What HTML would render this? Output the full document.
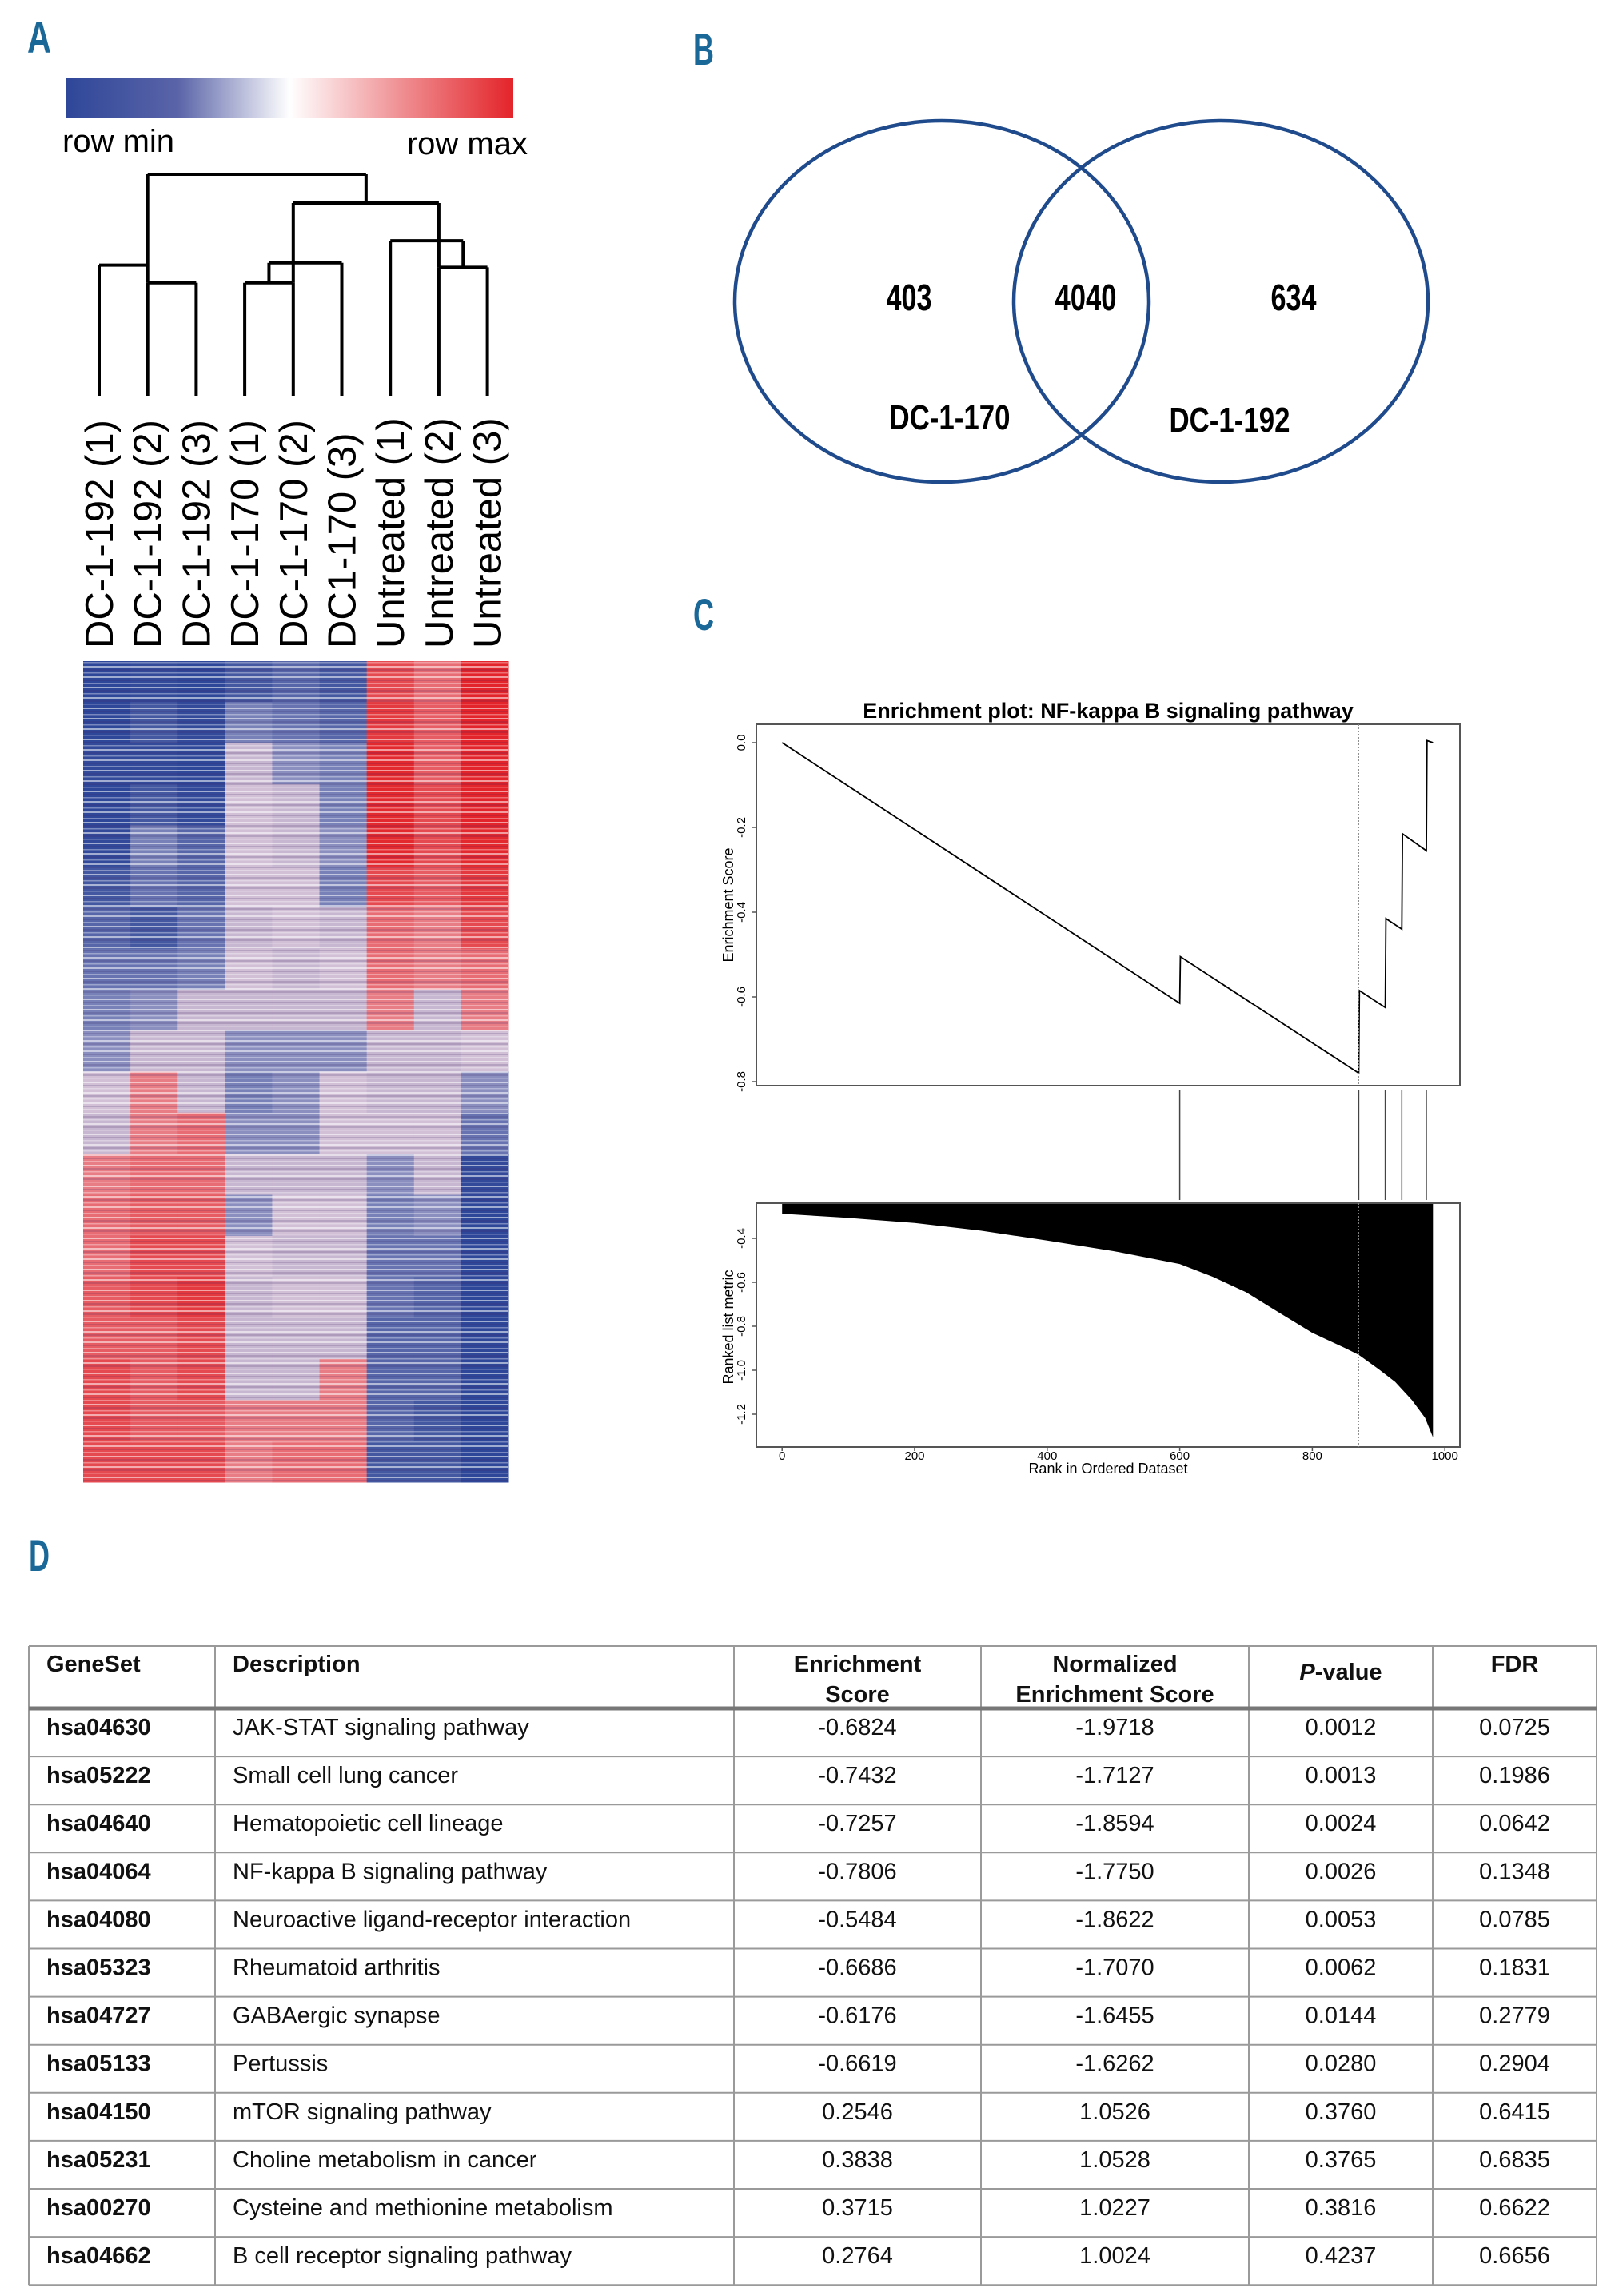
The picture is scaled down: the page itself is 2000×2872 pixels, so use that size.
<!DOCTYPE html>
<html><head><meta charset="utf-8">
<style>
html,body{margin:0;padding:0;background:#fff;}
svg{display:block;}
.lbl{font-family:"Liberation Sans Narrow","Liberation Sans",sans-serif;font-weight:bold;fill:#1a6898;font-size:56px;}
.ax{font-family:"Liberation Sans",sans-serif;}
.tb{font-family:"Liberation Sans",sans-serif;font-size:29px;fill:#111;}
</style></head>
<body>
<svg id="fig" width="2000" height="2872" viewBox="0 0 2000 2872" xmlns="http://www.w3.org/2000/svg">
<defs>
<linearGradient id="cbar" x1="0" x2="1" y1="0" y2="0">
<stop offset="0" stop-color="#2f4799"/><stop offset="0.25" stop-color="#5a64a8"/><stop offset="0.5" stop-color="#ffffff"/><stop offset="0.75" stop-color="#ef8f92"/><stop offset="1" stop-color="#e3242a"/>
</linearGradient>
<pattern id="stripes" width="10" height="13" patternUnits="userSpaceOnUse">
<rect x="0" y="1" width="10" height="2" fill="#fff" opacity="0.55"/>
<rect x="0" y="5" width="10" height="2" fill="#3a1a60" opacity="0.18"/>
<rect x="0" y="9" width="10" height="1.5" fill="#fff" opacity="0.35"/>
</pattern>
</defs>
<text class="lbl" x="34" y="66" textLength="30" lengthAdjust="spacingAndGlyphs">A</text>
<text class="lbl" x="867" y="81" textLength="26" lengthAdjust="spacingAndGlyphs">B</text>
<text class="lbl" x="867" y="788" textLength="26" lengthAdjust="spacingAndGlyphs">C</text>
<text class="lbl" x="36" y="1965" textLength="26" lengthAdjust="spacingAndGlyphs">D</text>

<g>
<rect x="83" y="97" width="559" height="51" fill="url(#cbar)"/>
<text class="ax" x="78" y="190" font-size="40">row min</text>
<text class="ax" x="660" y="193" font-size="40" text-anchor="end">row max</text>
</g>

<g id="dendro" stroke="#000" stroke-width="4" fill="none"></g>
<g id="samplelabels"></g>
<g id="heat"></g>

<g>
<ellipse cx="1178" cy="377" rx="259" ry="226" fill="none" stroke="#1f4a8c" stroke-width="4.5"/>
<ellipse cx="1527" cy="377" rx="259" ry="226" fill="none" stroke="#1f4a8c" stroke-width="4.5"/>
<g font-family="'Liberation Sans Narrow','Liberation Sans',sans-serif" font-weight="bold" text-anchor="middle" fill="#000">
<text x="1137" y="388" font-size="46" textLength="57" lengthAdjust="spacingAndGlyphs">403</text>
<text x="1358" y="388" font-size="46" textLength="77" lengthAdjust="spacingAndGlyphs">4040</text>
<text x="1618" y="388" font-size="46" textLength="57" lengthAdjust="spacingAndGlyphs">634</text>
<text x="1188" y="537" font-size="44" textLength="151" lengthAdjust="spacingAndGlyphs">DC-1-170</text>
<text x="1538" y="540" font-size="44" textLength="151" lengthAdjust="spacingAndGlyphs">DC-1-192</text>
</g>
</g>

<g id="gsea"></g>
<g id="table"></g>
</svg>

<script>
// ---------- Heatmap data (block-averaged, -1 = row min, 1 = row max) ----------
const samples = ["DC-1-192 (1)","DC-1-192 (2)","DC-1-192 (3)","DC-1-170 (1)","DC-1-170 (2)","DC1-170 (3)","Untreated (1)","Untreated (2)","Untreated (3)"];
const heatCol1 = [-0.8,-0.8,-0.7,-0.8,-0.7,-0.6,-0.5,-0.4,-0.3,-0.2,0,0.1,0.2,0.3,0.3,0.4,0.4,0.5,0.5,0.5];
const heatCol2 = [-0.7,-0.6,-0.7,-0.6,-0.3,-0.4,-0.6,-0.4,-0.2,0.1,0.2,0.2,0.3,0.4,0.5,0.5,0.4,0.4,0.4,0.5];
const heatCol3 = [-0.8,-0.7,-0.8,-0.7,-0.5,-0.5,-0.4,-0.3,-0.1,0.1,0.1,0.3,0.3,0.4,0.5,0.6,0.5,0.5,0.4,0.5];
const heatCol4 = [-0.6,-0.3,-0.1,0,0,0,-0.1,0,0.1,-0.2,-0.3,-0.2,-0.1,-0.2,0,-0.1,0.1,0.1,0.2,0.2];
const heatCol5 = [-0.5,-0.4,-0.2,-0.1,-0.1,0,0,-0.1,-0.1,-0.2,-0.2,-0.2,-0.1,0,-0.1,0,0.1,0.1,0.2,0.3];
const heatCol6 = [-0.6,-0.5,-0.3,-0.3,-0.2,-0.3,-0.1,0,-0.1,-0.2,0,0,-0.1,0,0.1,0,0.1,0.2,0.2,0.3];
const heatCol7 = [0.5,0.6,0.7,0.7,0.7,0.5,0.3,0.3,0.2,0.1,0.1,0,-0.2,-0.3,-0.4,-0.4,-0.5,-0.5,-0.5,-0.6];
const heatCol8 = [0.3,0.4,0.4,0.5,0.5,0.4,0.2,0.2,0.1,0.1,0.1,0,-0.1,-0.2,-0.4,-0.5,-0.5,-0.5,-0.6,-0.6];
const heatCol9 = [0.9,0.9,0.85,0.8,0.7,0.6,0.5,0.3,0.2,0,-0.2,-0.4,-0.7,-0.8,-0.85,-0.9,-0.9,-0.9,-0.9,-0.9];
// dendrogram merge heights (0 = leaves, 1 = root)
const mergeHeights = {g192_23:0.51, g192_all:0.59, g170_12:0.51, g170_all:0.60, unt_23:0.58, unt_all:0.70, treat170_unt:0.87, root:1.0};

// ---------- GSEA data ----------
const esRanks  = [0,600,601,870,871,910,911,935,936,972,973,982];
const esValues = [0,-0.615,-0.505,-0.78,-0.585,-0.625,-0.415,-0.44,-0.215,-0.255,0.005,0];
const hitRanks = [600,870,910,935,972];
const leadingEdgeRank = 870;
const metricRanks  = [0,100,200,300,400,500,600,650,700,750,800,850,870,900,925,950,970,982];
const metricValues = [-0.288,-0.307,-0.33,-0.365,-0.41,-0.458,-0.517,-0.575,-0.645,-0.738,-0.83,-0.90,-0.93,-0.995,-1.053,-1.135,-1.216,-1.305];
const esTicks = [0.0,-0.2,-0.4,-0.6,-0.8];
const esTickLabels = ["0.0","-0.2","-0.4","-0.6","-0.8"];
const metricTicks = [-0.4,-0.6,-0.8,-1.0,-1.2];
const metricTickLabels = ["-0.4","-0.6","-0.8","-1.0","-1.2"];
const rankTicks = [0,200,400,600,800,1000];

// ---------- Table data ----------
const tableHeader = [["GeneSet"],["Description"],["Enrichment","Score"],["Normalized","Enrichment Score"],["P-value"],["FDR"]];
const geneSets = ["hsa04630","hsa05222","hsa04640","hsa04064","hsa04080","hsa05323","hsa04727","hsa05133","hsa04150","hsa05231","hsa00270","hsa04662"];
const descriptions = ["JAK-STAT signaling pathway","Small cell lung cancer","Hematopoietic cell lineage","NF-kappa B signaling pathway","Neuroactive ligand-receptor interaction","Rheumatoid arthritis","GABAergic synapse","Pertussis","mTOR signaling pathway","Choline metabolism in cancer","Cysteine and methionine metabolism","B cell receptor signaling pathway"];
const enrichScores = ["-0.6824","-0.7432","-0.7257","-0.7806","-0.5484","-0.6686","-0.6176","-0.6619","0.2546","0.3838","0.3715","0.2764"];
const normScores = ["-1.9718","-1.7127","-1.8594","-1.7750","-1.8622","-1.7070","-1.6455","-1.6262","1.0526","1.0528","1.0227","1.0024"];
const pValues = ["0.0012","0.0013","0.0024","0.0026","0.0053","0.0062","0.0144","0.0280","0.3760","0.3765","0.3816","0.4237"];
const fdrValues = ["0.0725","0.1986","0.0642","0.1348","0.0785","0.1831","0.2779","0.2904","0.6415","0.6835","0.6622","0.6656"];

const NS="http://www.w3.org/2000/svg";
function mk(tag,attrs,parent){const e=document.createElementNS(NS,tag);for(const k in attrs)e.setAttribute(k,attrs[k]);parent.appendChild(e);return e;}

// ---- Heatmap ----
(function(){
  const g=document.getElementById('heat');
  const cols=[heatCol1,heatCol2,heatCol3,heatCol4,heatCol5,heatCol6,heatCol7,heatCol8,heatCol9];
  const x0=104,x1=636,y0=827,y1=1854;
  const cw=(x1-x0)/cols.length;
  const blue=[47,71,153],red=[227,36,42],white=[240,225,235];
  function color(v){const t=Math.min(1,0.35+Math.abs(v)*0.9);
    let c;
    if(Math.abs(v)<0.15){c=[150,130,175];}
    else c=v<0?blue:red;
    return 'rgb('+[0,1,2].map(i=>Math.round(white[i]+(c[i]-white[i])*t)).join(',')+')';}
  cols.forEach((col,ci)=>{
    const bh=(y1-y0)/col.length;
    col.forEach((v,ri)=>{
      const r=mk('rect',{x:x0+ci*cw,y:y0+ri*bh,width:cw+0.5,height:bh+0.5,fill:color(v)},g);
      
      
    });
  });
  const o=mk('rect',{x:x0,y:y0,width:x1-x0,height:y1-y0,fill:'url(#stripes)'},g);
  
  
})();

// ---- Dendrogram & labels ----
(function(){
  const g=document.getElementById('dendro');
  const lx=i=>124+i*60.7;
  const leafY=495, rootY=218;
  const hy=h=>leafY-(leafY-rootY)*h;
  function seg(x1,y1,x2,y2){const l=mk('line',{x1,y1,x2,y2},g);}
  const H=mergeHeights;
  seg(lx(1),leafY,lx(1),hy(H.g192_23)); seg(lx(2),leafY,lx(2),hy(H.g192_23)); seg(lx(1),hy(H.g192_23),lx(2),hy(H.g192_23));
  seg(lx(0),leafY,lx(0),hy(H.g192_all)); seg(lx(0),hy(H.g192_all),lx(1),hy(H.g192_all));
  seg(lx(1),hy(H.g192_23),lx(1),hy(H.root));
  seg(lx(3),leafY,lx(3),hy(H.g170_12)); seg(lx(4),leafY,lx(4),hy(H.g170_12)); seg(lx(3),hy(H.g170_12),lx(4),hy(H.g170_12));
  const m170=(lx(3)+lx(4))/2;
  seg(m170,hy(H.g170_12),m170,hy(H.g170_all)); seg(lx(5),leafY,lx(5),hy(H.g170_all)); seg(m170,hy(H.g170_all),lx(5),hy(H.g170_all));
  seg(lx(4),hy(H.g170_12),lx(4),hy(H.treat170_unt));
  seg(lx(7),leafY,lx(7),hy(H.unt_23)); seg(lx(8),leafY,lx(8),hy(H.unt_23)); seg(lx(7),hy(H.unt_23),lx(8),hy(H.unt_23));
  const mU=(lx(7)+lx(8))/2;
  seg(mU,hy(H.unt_23),mU,hy(H.unt_all)); seg(lx(6),leafY,lx(6),hy(H.unt_all)); seg(lx(6),hy(H.unt_all),mU,hy(H.unt_all));
  seg(lx(7),hy(H.unt_23),lx(7),hy(H.treat170_unt));
  seg(lx(4),hy(H.treat170_unt),lx(7),hy(H.treat170_unt));
  const mT=(lx(4)+lx(7))/2;
  seg(mT,hy(H.treat170_unt),mT,hy(H.root));
  seg(lx(1),hy(H.root),mT,hy(H.root));
  const lg=document.getElementById('samplelabels');
  samples.forEach((s,i)=>{
    const t=mk('text',{transform:'translate('+(lx(i)+17)+',811) rotate(-90)',class:'ax','font-size':'49'},lg);
    t.textContent=s;
    
    
  });
})();

// ---- GSEA ----
(function(){
  const g=document.getElementById('gsea');
  const X=r=>978.2+0.829*r;
  const Yes=v=>929-v*530;
  const Ym=v=>1549+(-0.4-v)*275;
  const L=946,R=1826;
  const t=mk('text',{x:1386,y:898,'text-anchor':'middle','font-family':"'Liberation Sans',sans-serif",'font-weight':'bold','font-size':'27'},g);
  t.textContent='Enrichment plot: NF-kappa B signaling pathway';
  
  
  const b1=mk('rect',{x:L,y:906,width:R-L,height:452,fill:'none',stroke:'#555','stroke-width':2},g);
  
  
  const b2=mk('rect',{x:L,y:1505,width:R-L,height:305,fill:'none',stroke:'#555','stroke-width':2},g);
  
  
  let d='M'+X(metricRanks[0])+',1506';
  metricRanks.forEach((r,i)=>{d+=' L'+X(r)+','+Ym(metricValues[i]);});
  d+=' L'+X(metricRanks[metricRanks.length-1])+',1506 Z';
  const mf=mk('path',{d,fill:'#000'},g);
  
  
  const pts=esRanks.map((r,i)=>X(r)+','+Yes(esValues[i])).join(' ');
  const es=mk('polyline',{points:pts,fill:'none',stroke:'#000','stroke-width':1.8},g);
  
  
  hitRanks.forEach(r=>{
    const l=mk('line',{x1:X(r),x2:X(r),y1:1363,y2:1501,stroke:'#444','stroke-width':1.5},g);
    
    
  });
  [[906,1358],[1505,1810]].forEach(([a,b])=>{
    const l=mk('line',{x1:X(leadingEdgeRank),x2:X(leadingEdgeRank),y1:a,y2:b,stroke:'#888','stroke-width':1,'stroke-dasharray':'2,2'},g);
    
    
  });
  function ytick(v,lab,Y,name){
    const y=Y(v);
    const l=mk('line',{x1:L-6,x2:L,y1:y,y2:y,stroke:'#555','stroke-width':1.5},g);
    
    
    const tt=mk('text',{transform:'translate('+(L-14)+','+y+') rotate(-90)','text-anchor':'middle',class:'ax','font-size':'15'},g);
    tt.textContent=lab;
    
    
  }
  esTicks.forEach((v,i)=>ytick(v,esTickLabels[i],Yes,'es-axis'));
  metricTicks.forEach((v,i)=>ytick(v,metricTickLabels[i],Ym,'metric-axis'));
  rankTicks.forEach(r=>{
    const l=mk('line',{x1:X(r),x2:X(r),y1:1810,y2:1815,stroke:'#555','stroke-width':1.5},g);
    
    
    const tt=mk('text',{x:X(r),y:1826,'text-anchor':'middle',class:'ax','font-size':'15'},g);
    tt.textContent=r;
    
    
  });
  const a1=mk('text',{transform:'translate(917,1132) rotate(-90)','text-anchor':'middle',class:'ax','font-size':'18'},g);
  a1.textContent='Enrichment Score';
  
  
  const a2=mk('text',{transform:'translate(917,1660) rotate(-90)','text-anchor':'middle',class:'ax','font-size':'18'},g);
  a2.textContent='Ranked list metric';
  
  
  const a3=mk('text',{x:1386,y:1843,'text-anchor':'middle',class:'ax','font-size':'18'},g);
  a3.textContent='Rank in Ordered Dataset';
  
  
})();

// ---- Table ----
(function(){
  const g=document.getElementById('table');
  const cx=[36,269,918,1227,1562,1792,1997];
  const top=2059,hb=2137,rh=60.1,n=geneSets.length,bot=hb+rh*n;
  const gray='#9a9a9a';
  function ln(x1,y1,x2,y2,w,c,name){const l=mk('line',{x1,y1,x2,y2,stroke:c,'stroke-width':w},g);}
  cx.forEach(x=>ln(x,top,x,bot,2,gray,'table-column-rule'));
  ln(cx[0],top,cx[6],top,2,gray,'table-top-rule');
  ln(cx[0],hb,cx[6],hb,5,'#777','table-header-rule');
  for(let i=1;i<=n;i++) ln(cx[0],hb+rh*i,cx[6],hb+rh*i,2,gray,'table-row-rule');
  tableHeader.forEach((lines,ci)=>{
    const center=ci>=2;
    const x=center?(cx[ci]+cx[ci+1])/2:cx[ci]+22;
    const ys=lines.length===2?[2091,2129]:(ci===4?[2101]:[2091]);
    lines.forEach((s,li)=>{
      const t=mk('text',{x,y:ys[li],class:'tb','font-weight':'bold','text-anchor':center?'middle':'start'},g);
      if(s==='P-value'){const a=mk('tspan',{'font-style':'italic'},t);a.textContent='P';const b=mk('tspan',{},t);b.textContent='-value';}
      else t.textContent=s;
      
      
    });
  });
  const cols=[geneSets,descriptions,enrichScores,normScores,pValues,fdrValues];
  for(let r=0;r<n;r++){
    const y=hb+rh*r+33;
    cols.forEach((arr,ci)=>{
      const center=ci>=2;
      const x=center?(cx[ci]+cx[ci+1])/2:cx[ci]+22;
      const t=mk('text',{x,y,class:'tb','text-anchor':center?'middle':'start'},g);
      if(ci===0)t.setAttribute('font-weight','bold');
      t.textContent=arr[r];
      
      
    });
  }
})();
</script>
</body></html>
